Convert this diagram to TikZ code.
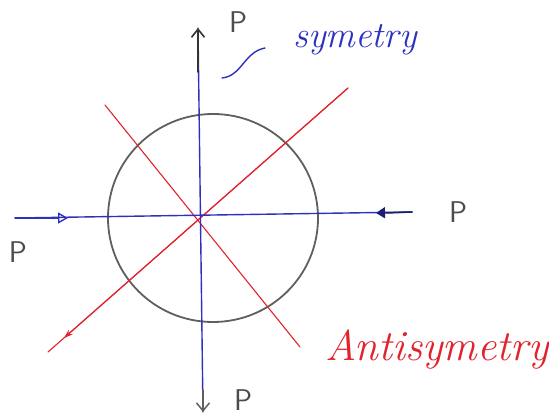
\documentclass[tikz,border=0pt]{standalone}
\usepackage{xcolor}
\usepackage{tikz}
\usetikzlibrary{arrows.meta, calc}

\definecolor{penblue}{RGB}{45,50,190}
\definecolor{penred}{RGB}{225,35,45}
\definecolor{pengray}{RGB}{95,95,95}

\begin{document}
\begin{tikzpicture}[
  x=1pt, y=-1pt,
  line cap=round,
  axis/.style={draw=penblue, line width=1.4pt},
  diag/.style={draw=penred, line width=1.1pt},
  lbl/.style={font=\sffamily\fontsize{30}{32}\selectfont, text=black!70, inner sep=0pt},
  word/.style={font=\itshape\fontsize{#1}{#1}\selectfont, inner sep=0pt}
]
\useasboundingbox (0,0) rectangle (549,418);

% Centre and axis ends
\coordinate (O) at (198,217);
\coordinate (top) at (198,28);
\coordinate (topk) at (198,72);
\coordinate (bot) at (203,412);
\coordinate (left) at (15,218);
\coordinate (leftarr) at (68,218);
\coordinate (right) at (412,212);
\coordinate (rightarr) at (376,213);
\coordinate (rightk) at (386,213);

% Diagonal ends
\coordinate (a1) at (48,352);
\coordinate (a1arr) at (64,338);
\coordinate (a2) at (348,88);
\coordinate (b1) at (105,105);
\coordinate (b2) at (300,347);

% Circle
\coordinate (C) at (213,218);
\draw[pengray, line width=1.8pt] (C) ellipse [x radius=105, y radius=104];

% Red diagonals
\draw[diag] (a1) -- (a2);
\draw[diag] (b1) -- (b2);
\draw[diag, -{Stealth[length=9pt, width=6pt]}] (a2) -- (a1arr);

% Blue axes
\draw[axis] (top) -- (bot);
\draw[black!80, line width=1.6pt, -{Straight Barb[length=8pt, width=13pt]}] (topk) -- (top);
\draw[pengray, line width=1.5pt, -{Straight Barb[length=8pt, width=13pt]}] ($(bot)+(0,-22)$) -- (bot);
\draw[axis] (left) -- (right);
\draw[pengray, line width=1.5pt] (rightk) -- (right);
\draw[axis, -{Triangle[open, length=10pt, width=11pt]}] (left) -- (leftarr);
\draw[penblue!60!black, line width=1.5pt, -{Triangle[length=9pt, width=11pt]}] (right) -- (rightarr);

% Labels
\node[lbl] (ptop) at (238,22) {P};
\node[lbl] (pleft) at (18,252) {P};
\node[lbl] (pright) at (458,212) {P};
\node[lbl] (pbot) at (243,400) {P};

% Symmetry note
\node[word=37, text=penblue] (sym) at (355,40) {symetry};
\coordinate (squig) at (222,78);
\draw[penblue, line width=1.4pt] (squig) .. controls (242,76) and (244,52) .. (265,48);

% Antisymmetry note
\node[word=43, text=penred] (anti) at (437,350) {Antisymetry};

\end{tikzpicture}
\end{document}
